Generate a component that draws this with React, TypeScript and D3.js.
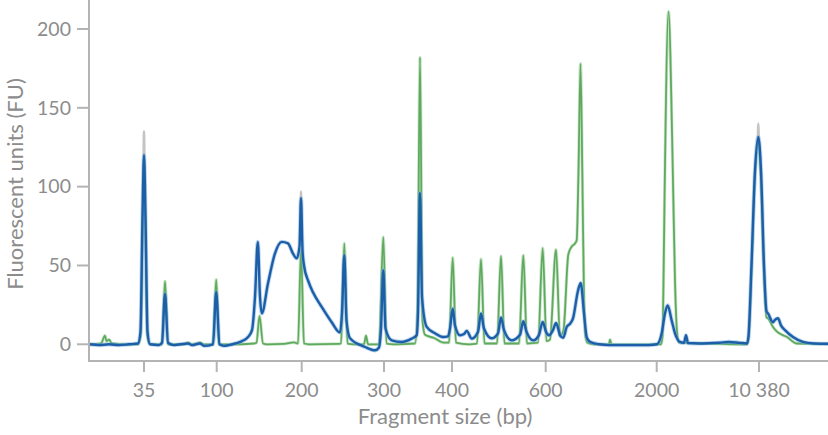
import React from "react";
import * as d3 from "d3";

// Ladder: fragment sizes (bp) and their migration times (s)
const ladderSizes = ["35", "100", "200", "300", "400", "600", "2000", "10 380"];
const ladderTimes = [5.5, 12.77, 21.27, 29.5, 36.3, 45.67, 56.77, 67.0];
const yTicks = [0, 50, 100, 150, 200];

// Green trace: [migration time (s), fluorescence (FU)]
const greenTrace: [number, number][] = [
  [0.1, 0], [1.2, 0.5], [1.6, 5.5], [1.75, 2], [2.0, 3], [2.3, 0.5], [3.5, 0], [4.9, 0],
  [5.15, 5], [5.5, 118], [5.85, 5], [6.1, 0], [7.3, 0], [7.6, 40], [7.9, 0], [9.5, 0],
  [9.9, 1], [10.3, 0], [11.1, 1], [11.5, 0], [12.4, 0], [12.72, 41], [13.0, 0], [15.0, 0],
  [16.5, 0.5], [16.75, 1], [17.05, 18], [17.4, 0.5], [17.8, 0], [19.5, 0.3], [20.5, 1.2],
  [20.9, 0.5], [21.2, 60], [21.5, 0.5], [22.0, 0], [25.0, 0.3], [25.2, 0.5], [25.53, 64],
  [25.85, 0.5], [26.5, 0], [27.5, 0], [27.7, 5.5], [27.9, 0], [29.0, 0], [29.43, 68],
  [29.75, 0.5], [30.5, 0], [32.6, 0.5], [32.85, 20], [33.1, 182], [33.35, 15], [33.6, 6],
  [34.5, 4], [35.5, 1], [36.0, 1], [36.37, 55], [36.7, 1], [38.0, 0], [38.8, 0.5], [39.2, 54],
  [39.55, 0.5], [40.8, 0.5], [41.2, 56], [41.55, 0.5], [43.0, 0.5], [43.43, 56.5], [43.8, 0.5],
  [44.9, 1], [45.37, 61], [45.75, 2], [46.1, 3], [46.7, 60], [47.1, 5], [47.45, 9], [47.93, 57],
  [48.27, 62], [48.6, 64], [48.77, 66], [48.95, 110], [49.15, 178], [49.35, 100], [49.5, 30],
  [49.65, 5], [49.85, 1], [50.5, 0], [52.0, 0], [52.1, 3], [52.25, 0], [54.0, 0], [57.2, 0],
  [57.35, 5], [57.45, 40], [57.55, 90], [57.95, 211], [58.35, 120], [58.6, 40], [58.8, 8],
  [59.0, 1], [62.0, 0.5], [65.6, 0], [65.8, 0], [65.95, 4], [66.25, 48], [66.6, 108],
  [66.93, 128], [67.2, 105], [67.5, 45], [67.75, 17], [67.9, 16.5], [68.4, 11], [68.8, 8],
  [69.8, 4.6], [70.8, 0.5], [74, 0.3],
];

// Blue trace: [migration time (s), fluorescence (FU)]
const blueTrace: [number, number][] = [
  [0.1, 0], [1, -0.5], [2, 0], [3, -0.5], [4, 0], [4.9, 0.5], [5.15, 8], [5.35, 80],
  [5.5, 120], [5.65, 80], [5.85, 8], [6.1, 0], [7.0, -0.5], [7.3, 1], [7.6, 32], [7.9, 1],
  [8.5, -0.5], [9.9, 0.5], [10.3, -0.5], [11.1, 0.5], [11.5, -1], [12.4, 0], [12.72, 33],
  [13.05, 0], [13.5, -1], [14.0, -0.5], [14.6, 0.5], [15.3, 2], [15.9, 4.6], [16.3, 9],
  [16.6, 30], [16.88, 65], [17.1, 30], [17.28, 19.6], [17.9, 38.7], [18.6, 57.7], [19.27, 65],
  [19.9, 64], [20.4, 57.5], [20.77, 54.5], [21.05, 62], [21.2, 92.6], [21.35, 60], [21.5, 50],
  [21.93, 40], [22.4, 33], [23.27, 23.7], [24.27, 14], [25.1, 7.5], [25.3, 20], [25.53, 56.5],
  [25.75, 15], [26.1, 3.8], [27.6, -1.7], [28.6, -3.8], [29.0, -2], [29.2, 10], [29.43, 47],
  [29.65, 10], [30.27, 2.5], [31.27, 1.5], [32.27, 3.6], [32.77, 5.7], [32.9, 20], [33.1, 96],
  [33.3, 30], [33.77, 11], [34.6, 7], [35.4, 4.6], [35.9, 5], [36.1, 10], [36.37, 22.6],
  [36.6, 12], [37.1, 5.7], [37.5, 6.5], [37.77, 8.5], [38.27, 3.6], [38.9, 8], [39.2, 19.5],
  [39.5, 10], [40.27, 3.8], [40.9, 7], [41.2, 17], [41.5, 9], [42.27, 2.5], [43.1, 6],
  [43.43, 14.6], [43.75, 8], [44.43, 2.5], [45.0, 6], [45.37, 14.2], [45.7, 8], [46.0, 5.7],
  [46.4, 9], [46.7, 13.5], [47.0, 8], [47.1, 5.7], [47.43, 4.2], [47.77, 11], [48.1, 13],
  [48.4, 16.5], [48.9, 34], [49.17, 38.9], [49.5, 19.6], [49.77, 4.6], [50.1, 1.5], [51.0, 0],
  [52, -0.5], [54, -0.5], [56, -0.5], [56.8, 0], [57.27, 7], [57.6, 19.6], [57.87, 24.7],
  [58.27, 15], [58.6, 7], [59.1, 1.5], [59.5, 1], [59.7, 5.7], [59.9, 0.8], [61, 0.5], [63, 1],
  [64, 1.5], [65, 1], [65.8, 0.5], [65.95, 5], [66.25, 50], [66.6, 110], [66.93, 131.5],
  [67.2, 110], [67.5, 50], [67.75, 21], [67.9, 19.6], [68.4, 14], [68.6, 15.5], [68.9, 16.5],
  [69.2, 12], [69.6, 9], [70.4, 4.6], [71.4, 1.5], [72.5, 0.5], [74, 0.3],
];

// Grey trace tips visible above the blue peaks (NaN separates segments)
const greyTrace: [number, number][] = [
  [5.44, 105], [5.5, 135], [5.56, 105], [NaN, NaN],
  [21.16, 85], [21.2, 97], [21.24, 85], [NaN, NaN],
  [66.87, 125], [66.93, 140], [66.99, 125],
];

const W = 828;
const H = 435;
const axisColor = "#b4b4b4";
const textColor = "#8c8c8c";
const font = "Lato, 'Open Sans', sans-serif";

export default function App() {
  const x = d3.scaleLinear().domain([0, 74]).range([89, 829]);
  const y = d3.scaleLinear().domain([0, 218.4]).range([344.3, 0]);
  const axisY = 361;

  const line = d3
    .line<[number, number]>()
    .defined((d) => !isNaN(d[0]))
    .x((d) => x(d[0]))
    .y((d) => y(d[1]))
    .curve(d3.curveMonotoneX);

  return (
    <svg
      width={W}
      height={H}
      style={{ position: "absolute", left: 0, top: 0, background: "#fff" }}
      fontFamily={font}
    >
      {/* Y axis */}
      <line x1={x(0)} x2={x(0)} y1={0} y2={axisY + 1} stroke={axisColor} strokeWidth={2} />
      {yTicks.map((t) => (
        <g key={t}>
          <line x1={77} x2={x(0)} y1={y(t)} y2={y(t)} stroke={axisColor} strokeWidth={2} />
          <text x={71} y={y(t)} dy="0.35em" textAnchor="end" fontSize={19.5} fill={textColor}>
            {t}
          </text>
        </g>
      ))}
      <text
        transform={`translate(23, 184) rotate(-90)`}
        textAnchor="middle"
        fontSize={22}
        fill={textColor}
      >
        Fluorescent units (FU)
      </text>

      {/* X axis */}
      <line x1={x(0) - 1} x2={W} y1={axisY} y2={axisY} stroke={axisColor} strokeWidth={2} />
      {ladderTimes.map((t, i) => (
        <g key={i}>
          <line x1={x(t)} x2={x(t)} y1={axisY} y2={axisY + 11} stroke={axisColor} strokeWidth={2} />
          <text x={x(t)} y={397} textAnchor="middle" fontSize={19.5} fill={textColor}>
            {ladderSizes[i]}
          </text>
        </g>
      ))}
      <text x={445} y={424} textAnchor="middle" fontSize={22} fill={textColor}>
        Fragment size (bp)
      </text>

      {/* Traces */}
      <path d={line(greyTrace) || ""} fill="none" stroke="#c4c4c4" strokeWidth={2.5} />
      <path d={line(greenTrace) || ""} fill="none" stroke="#a9d3a9" strokeWidth={3.2} opacity={0.6} />
      <path d={line(greenTrace) || ""} fill="none" stroke="#5faa5f" strokeWidth={1.8} />
      <path d={line(blueTrace) || ""} fill="none" stroke="#7fb0e0" strokeWidth={4.2} opacity={0.5} />
      <path d={line(blueTrace) || ""} fill="none" stroke="#1c5fa8" strokeWidth={2.4} />
    </svg>
  );
}
